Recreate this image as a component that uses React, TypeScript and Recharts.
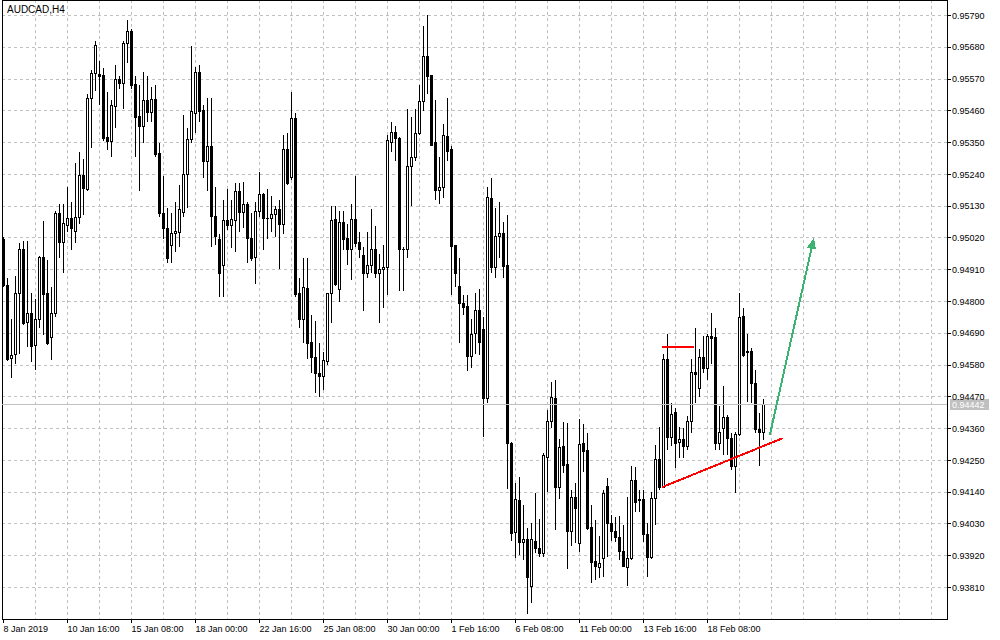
import React from 'react';
import {
  ComposedChart,
  Bar,
  XAxis,
  YAxis,
  CartesianGrid,
  ReferenceLine,
  ReferenceArea,
} from 'recharts';

const FONT = "'Liberation Sans', Arial, Helvetica, sans-serif";

const openP = [
  0.95015,0.94856,0.94603,0.94617,0.94828,0.94980,0.94727,0.94759,0.94648,0.94738,
  0.94952,0.94828,0.94676,0.94759,0.95105,0.95004,0.95063,0.95087,0.95042,0.95091,
  0.95236,0.95188,0.95503,0.95589,0.95586,0.95582,0.95368,0.95354,0.95475,0.95568,
  0.95555,0.95693,0.95735,0.95551,0.95440,0.95406,0.95496,0.95454,0.95499,0.95312,
  0.95105,0.95053,0.94994,0.95035,0.95039,0.95108,0.95240,0.95361,0.95451,0.95593,
  0.95461,0.95285,0.95337,0.95094,0.95015,0.94925,0.95080,0.95063,0.95080,0.95181,
  0.95108,0.95136,0.95018,0.94952,0.95112,0.95170,0.95087,0.95087,0.95101,0.95119,
  0.95067,0.95326,0.95229,0.95434,0.94828,0.94738,0.94845,0.94658,0.94607,0.94551,
  0.94541,0.94593,0.94828,0.95084,0.94842,0.95074,0.95018,0.94980,0.95084,0.95004,
  0.94959,0.94897,0.94925,0.94980,0.94897,0.94911,0.94918,0.95350,0.95385,0.95364,
  0.94980,0.94980,0.95267,0.95299,0.95382,0.95492,0.95648,0.95582,0.95350,0.95184,
  0.95195,0.95371,0.95326,0.94994,0.94852,0.94793,0.94783,0.94610,0.94689,0.94769,
  0.94703,0.94464,0.95157,0.94918,0.95025,0.95035,0.94925,0.94309,0.94001,0.94111,
  0.93966,0.93977,0.93814,0.93970,0.93946,0.93929,0.94260,0.94385,0.94464,0.94157,
  0.94299,0.94236,0.94004,0.94122,0.93963,0.94309,0.94285,0.94018,0.93901,0.93880,
  0.93911,0.94161,0.94032,0.94004,0.93984,0.93935,0.93880,0.93911,0.94181,0.94115,
  0.94115,0.93994,0.93915,0.94118,0.94254,0.94157,0.94600,0.94330,0.94416,0.94312,
  0.94323,0.94299,0.94385,0.94555,0.94499,0.94607,0.94569,0.94679,0.94676,0.94309,
  0.94361,0.94399,0.94326,0.94230,0.94340,0.94748,0.94627,0.94627,0.94516,0.94357,
  0.94347,
];

const highP = [
  0.95022,0.94883,0.94738,0.94887,0.95001,0.95011,0.95011,0.94828,0.94807,0.94959,
  0.95077,0.94942,0.94849,0.95112,0.95139,0.95139,0.95195,0.95146,0.95278,0.95316,
  0.95295,0.95520,0.95600,0.95703,0.95634,0.95607,0.95524,0.95496,0.95617,0.95582,
  0.95703,0.95773,0.95745,0.95582,0.95548,0.95596,0.95582,0.95541,0.95551,0.95350,
  0.95233,0.95125,0.95108,0.95143,0.95202,0.95444,0.95402,0.95686,0.95613,0.95620,
  0.95479,0.95503,0.95503,0.95198,0.95032,0.95150,0.95188,0.95150,0.95209,0.95209,
  0.95212,0.95146,0.95105,0.95143,0.95247,0.95174,0.95191,0.95164,0.95132,0.95153,
  0.95378,0.95382,0.95524,0.95454,0.94883,0.94949,0.94952,0.94755,0.94734,0.94655,
  0.94624,0.94831,0.95132,0.95132,0.95115,0.95115,0.95070,0.95136,0.95236,0.95039,
  0.94987,0.95039,0.95119,0.95063,0.94966,0.94997,0.95378,0.95420,0.95406,0.95371,
  0.94987,0.95465,0.95437,0.95468,0.95551,0.95755,0.95793,0.95585,0.95499,0.95299,
  0.95416,0.95503,0.95337,0.94997,0.94949,0.94821,0.94821,0.94738,0.94831,0.94845,
  0.94745,0.95195,0.95226,0.95122,0.95143,0.95074,0.95101,0.94312,0.94171,0.94192,
  0.94097,0.94015,0.94035,0.94136,0.94046,0.94274,0.94423,0.94523,0.94530,0.94323,
  0.94382,0.94378,0.94147,0.94171,0.94392,0.94375,0.94344,0.94094,0.94042,0.93987,
  0.94147,0.94188,0.94060,0.94053,0.94056,0.94028,0.94125,0.94230,0.94226,0.94147,
  0.94147,0.94035,0.94140,0.94302,0.94364,0.94617,0.94686,0.94447,0.94430,0.94364,
  0.94361,0.94402,0.94600,0.94707,0.94634,0.94679,0.94686,0.94759,0.94707,0.94437,
  0.94506,0.94406,0.94344,0.94347,0.94828,0.94776,0.94689,0.94638,0.94562,0.94413,
  0.94461,
];

const lowP = [
  0.94849,0.94593,0.94534,0.94582,0.94620,0.94717,0.94641,0.94589,0.94562,0.94707,
  0.94683,0.94650,0.94596,0.94748,0.94949,0.94897,0.95039,0.94980,0.95004,0.95070,
  0.95098,0.95181,0.95330,0.95530,0.95479,0.95357,0.95326,0.95299,0.95399,0.95537,
  0.95465,0.95627,0.95537,0.95299,0.95184,0.95350,0.95420,0.95423,0.95299,0.95091,
  0.95018,0.94932,0.94932,0.94970,0.94987,0.95094,0.95125,0.95350,0.95382,0.95420,
  0.95226,0.95184,0.94990,0.94994,0.94814,0.94814,0.95046,0.94984,0.94970,0.95042,
  0.95056,0.94935,0.94939,0.94862,0.95094,0.94980,0.95018,0.95042,0.95022,0.94911,
  0.95035,0.95202,0.95219,0.94814,0.94707,0.94658,0.94600,0.94551,0.94485,0.94468,
  0.94492,0.94579,0.94724,0.94852,0.94797,0.94977,0.94925,0.94876,0.94987,0.94949,
  0.94766,0.94880,0.94897,0.94880,0.94724,0.94776,0.94824,0.95319,0.95288,0.94838,
  0.94835,0.94952,0.95132,0.95285,0.95378,0.95461,0.95520,0.95337,0.95150,0.95136,
  0.95160,0.95285,0.94824,0.94849,0.94655,0.94755,0.94558,0.94569,0.94620,0.94614,
  0.94330,0.94447,0.94900,0.94883,0.94952,0.94880,0.94150,0.93970,0.93911,0.93922,
  0.93904,0.93720,0.93755,0.93929,0.93915,0.93915,0.94140,0.94361,0.94008,0.94118,
  0.94206,0.93873,0.93953,0.93963,0.93932,0.94209,0.94008,0.93825,0.93835,0.93842,
  0.93846,0.93915,0.93970,0.93966,0.93904,0.93880,0.93814,0.93904,0.94070,0.94070,
  0.93966,0.93846,0.93907,0.94025,0.94147,0.94154,0.94285,0.94299,0.94223,0.94260,
  0.94260,0.94285,0.94344,0.94447,0.94468,0.94551,0.94530,0.94582,0.94285,0.94285,
  0.94267,0.94267,0.94216,0.94137,0.94333,0.94607,0.94451,0.94447,0.94344,0.94230,
  0.94319,
];

const closeP = [
  0.94856,0.94600,0.94614,0.94828,0.94980,0.94724,0.94759,0.94644,0.94738,0.94952,
  0.94824,0.94655,0.94759,0.95105,0.95004,0.95070,0.95087,0.95053,0.95091,0.95236,
  0.95191,0.95503,0.95589,0.95686,0.95579,0.95364,0.95354,0.95479,0.95568,0.95555,
  0.95693,0.95735,0.95548,0.95437,0.95406,0.95496,0.95454,0.95499,0.95309,0.95105,
  0.95053,0.94949,0.95035,0.95042,0.95119,0.95240,0.95361,0.95458,0.95593,0.95458,
  0.95285,0.95337,0.95094,0.95025,0.94897,0.95080,0.95063,0.95084,0.95181,0.95108,
  0.95136,0.95018,0.94949,0.95112,0.95170,0.95087,0.95086,0.95101,0.95119,0.95067,
  0.95326,0.95209,0.95434,0.94824,0.94738,0.94849,0.94655,0.94607,0.94551,0.94541,
  0.94596,0.94828,0.95080,0.94859,0.95074,0.95015,0.94980,0.95084,0.95001,0.94980,
  0.94897,0.94925,0.94980,0.94897,0.94911,0.94918,0.95357,0.95385,0.95364,0.94980,
  0.94979,0.95267,0.95299,0.95382,0.95492,0.95648,0.95579,0.95340,0.95184,0.95195,
  0.95375,0.95319,0.94990,0.94897,0.94793,0.94779,0.94610,0.94686,0.94769,0.94658,
  0.94464,0.95160,0.94918,0.95025,0.95035,0.94921,0.94309,0.93997,0.94115,0.93966,
  0.93977,0.93846,0.93977,0.93946,0.93929,0.94267,0.94385,0.94468,0.94157,0.94295,
  0.94233,0.94004,0.94122,0.94084,0.94306,0.94281,0.94015,0.93897,0.93884,0.93894,
  0.94136,0.94032,0.94004,0.93984,0.93935,0.93884,0.93911,0.94181,0.94104,0.94111,
  0.93994,0.93915,0.94118,0.94254,0.94157,0.94600,0.94330,0.94409,0.94309,0.94323,
  0.94299,0.94385,0.94555,0.94548,0.94607,0.94569,0.94679,0.94672,0.94309,0.94347,
  0.94399,0.94326,0.94230,0.94340,0.94745,0.94614,0.94624,0.94516,0.94357,0.94347,
  0.94442,
];

// x axis: bar index; labels every 16 H4 bars
const xTickIdx = [0, 16, 32, 48, 64, 80, 96, 112, 128, 144, 160, 176];
const xTickLabels = [
  '8 Jan 2019', '10 Jan 16:00', '15 Jan 08:00', '18 Jan 00:00', '22 Jan 16:00',
  '25 Jan 08:00', '30 Jan 00:00', '1 Feb 16:00', '6 Feb 08:00', '11 Feb 00:00',
  '13 Feb 16:00', '18 Feb 08:00',
];
const xGridIdx = [8, 16, 24, 32, 40, 48, 56, 64, 72, 80, 88, 96, 104, 112, 120, 128, 136, 144,
  152, 160, 168, 176, 184, 192, 200, 208, 216, 224, 232];

const priceTicks = [
  0.9381, 0.9392, 0.9403, 0.9414, 0.9425, 0.9436, 0.9447, 0.9458, 0.9469, 0.948,
  0.9491, 0.9502, 0.9513, 0.9524, 0.9535, 0.9546, 0.9557, 0.9568, 0.9579,
];
const lastPrice = 0.94442;

const xDomain = [-0.375, 235.875];
const yDomain = [0.93701, 0.958437];

// drawn objects (bar index, price)
const resistanceSeg = [{ x: 164.6, y: 0.94642 }, { x: 172.7, y: 0.94642 }];
const trendSeg = [{ x: 164.6, y: 0.94157 }, { x: 194.8, y: 0.94327 }];
const arrowSeg = [{ x: 191.6, y: 0.94339 }, { x: 202.6, y: 0.95021 }];

const candles = openP.map((o, i) => ({
  i,
  o,
  h: highP[i],
  l: lowP[i],
  c: closeP[i],
  range: [lowP[i], highP[i]],
}));

const Candle = (props: any) => {
  const { x, y, width, height, payload } = props;
  if (x == null || y == null || !payload) return null;
  const cx = x + width / 2;
  const { o, h, l, c } = payload;
  const yTop = Math.min(y, y + height);
  const yBot = Math.max(y, y + height);
  const span = h - l || 1;
  const toY = (p: number) => yTop + ((h - p) / span) * (yBot - yTop);
  const yO = toY(o);
  const yC = toY(c);
  const top = Math.min(yO, yC);
  const bot = Math.max(yO, yC);
  const bull = c >= o;
  return (
    <g>
      <line x1={cx} x2={cx} y1={yTop} y2={yBot} stroke="#000" strokeWidth={1} />
      {bull ? (
        <rect x={cx - 1} y={top} width={2} height={Math.max(bot - top, 1)} fill="#fff" stroke="#000" strokeWidth={1} />
      ) : (
        <rect x={cx - 1.5} y={top - 0.5} width={3} height={Math.max(bot - top, 0) + 1} fill="#000" />
      )}
    </g>
  );
};

const XTick = (props: any) => {
  const { x, y, payload } = props;
  const idx = xTickIdx.indexOf(payload.value);
  return (
    <text x={x} y={y + 9} fontSize={9} fontFamily={FONT} fill="#000" textAnchor="start">
      {idx >= 0 ? xTickLabels[idx] : ''}
    </text>
  );
};

const ArrowShape = (props: any) => {
  const { x1, y1, x2, y2 } = props;
  if ([x1, y1, x2, y2].some((v) => v == null)) return null;
  const ang = Math.atan2(y2 - y1, x2 - x1);
  const len = 11;
  const half = 4.5;
  const bx = x2 - len * Math.cos(ang);
  const by = y2 - len * Math.sin(ang);
  const px = -Math.sin(ang) * half;
  const py = Math.cos(ang) * half;
  return (
    <g>
      <line x1={x1} y1={y1} x2={bx} y2={by} stroke="#3cb371" strokeWidth={2} />
      <polygon points={`${x2},${y2} ${bx + px},${by + py} ${bx - px},${by - py}`} fill="#3cb371" />
    </g>
  );
};

const renderPriceTag = (props: any) => {
  const vb = props.viewBox || {};
  const right = (vb.x || 0) + (vb.width || 0);
  const yy = vb.y || 0;
  return (
    <g>
      <rect x={right + 3} y={yy - 6} width={39} height={11} fill="#c0c0c0" />
      <text x={right + 5} y={yy + 3.3} fontSize={9} fontFamily={FONT} fill="#ffffff">
        {lastPrice.toFixed(5)}
      </text>
    </g>
  );
};

export default function App() {
  return (
    <div style={{ position: 'absolute', left: 0, top: 0, width: 1000, height: 640, background: '#fff' }}>
      <style>{'.recharts-surface { shape-rendering: crispEdges; }'}</style>
      <ComposedChart
        width={1000}
        height={640}
        data={candles}
        margin={{ top: 0, right: 0, bottom: 0, left: 2 }}
      >
        <CartesianGrid
          stroke="#c0c0c0"
          strokeDasharray="3 3"
          verticalValues={xGridIdx}
          horizontalValues={priceTicks}
        />
        <XAxis
          dataKey="i"
          type="number"
          domain={xDomain}
          allowDataOverflow
          ticks={xTickIdx}
          interval={0}
          height={21}
          tickSize={4}
          tickMargin={0}
          axisLine={{ stroke: '#000' }}
          tickLine={{ stroke: '#000' }}
          tick={<XTick />}
        />
        <YAxis
          orientation="right"
          type="number"
          domain={yDomain}
          allowDataOverflow
          ticks={priceTicks}
          interval={0}
          width={53}
          tickSize={4}
          tickMargin={1}
          axisLine={{ stroke: '#000' }}
          tickLine={{ stroke: '#000' }}
          tick={{ fontSize: 9, fill: '#000', fontFamily: FONT }}
          tickFormatter={(v: number) => v.toFixed(5)}
        />
        <ReferenceArea
          x1={xDomain[0]}
          x2={xDomain[1]}
          y1={yDomain[0]}
          y2={yDomain[1]}
          fill="none"
          fillOpacity={0}
          stroke="#000"
          strokeWidth={1}
          ifOverflow="visible"
        />
        <ReferenceLine y={lastPrice} stroke="#c0c0c0" strokeWidth={1} label={renderPriceTag} />
        <Bar
          dataKey="range"
          barSize={3}
          shape={<Candle />}
          isAnimationActive={false}
        />
        <ReferenceLine segment={resistanceSeg} stroke="#ff0000" strokeWidth={2} ifOverflow="visible" />
        <ReferenceLine segment={trendSeg} stroke="#ff0000" strokeWidth={2} ifOverflow="visible" />
        <ReferenceLine segment={arrowSeg} ifOverflow="visible" shape={ArrowShape} />
      </ComposedChart>
      <div
        style={{
          position: 'absolute',
          left: 7,
          top: 5,
          fontFamily: FONT,
          fontSize: 10,
          lineHeight: '10px',
          color: '#000',
          whiteSpace: 'nowrap',
        }}
      >
        AUDCAD,H4
      </div>
    </div>
  );
}
